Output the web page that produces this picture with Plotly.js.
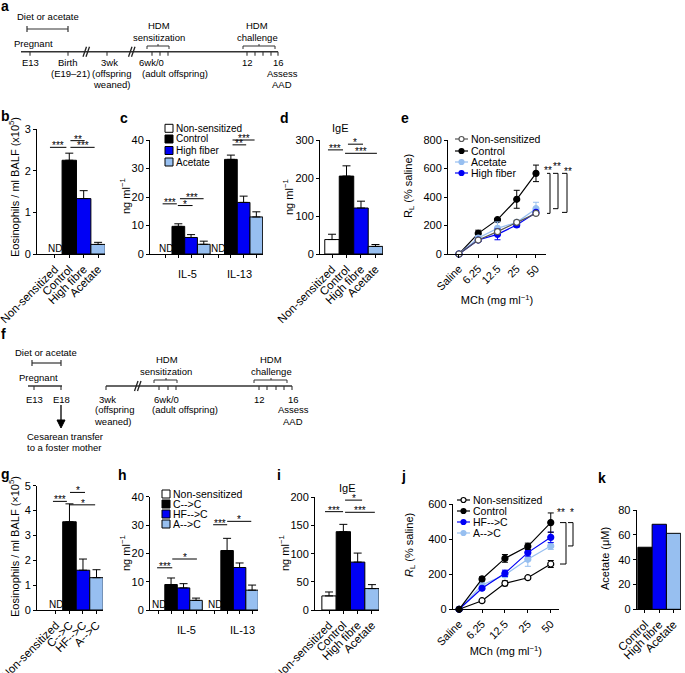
<!DOCTYPE html>
<html><head><meta charset="utf-8">
<script src="https://cdn.plot.ly/plotly-3.0.1.min.js"></script>
<style>html,body{margin:0;padding:0;background:#fff}</style>
</head><body><div id="chart" style="width:685px;height:673px"></div>
<script>
// ================= DATA =================
// panel b
const groupsB = ['Non-sensitized', 'Control', 'High fibre', 'Acetate'];
const eosB = [null, 2.25, 1.33, 0.23];
const eosBErr = [0, 0.17, 0.19, 0.05];
// panel c
const cytokines = ['IL-5', 'IL-13'];
const seriesC = ['Non-sensitized', 'Control', 'High fiber', 'Acetate'];
const cNS = [null, null];
const cCtrl = [9.7, 33.2];
const cCtrlErr = [0.9, 1.5];
const cHF = [5.8, 18.1];
const cHFErr = [1.0, 2.2];
const cAc = [3.4, 13.0];
const cAcErr = [1.1, 1.8];
// panel d
const groupsD = ['Non-sensitized', 'Control', 'High fibre', 'Acetate'];
const igeD = [38, 205, 121, 20];
const igeDErr = [14, 27, 18, 5];
// panel e
const doses = ['Saline', '6.25', '12.5', '25', '50'];
const seriesE = ['Non-sensitized', 'Control', 'Acetate', 'High fiber'];
const eNS = [0, 98, 157, 222, 285];
const eNSErr = [0, 10, 12, 12, 10];
const eCtrl = [0, 145, 241, 384, 566];
const eCtrlErr = [0, 22, 6, 63, 58];
const eAc = [0, 112, 180, 222, 318];
const eAcErr = [0, 15, 45, 15, 45];
const eHF = [0, 98, 138, 204, 292];
const eHFErr = [0, 10, 38, 15, 12];
// panel g
const groupsG = ['Non-sensitized', 'C-->C', 'HF-->C', 'A-->C'];
const eosG = [null, 3.55, 1.6, 1.3];
const eosGErr = [0, 0.72, 0.45, 0.32];
// panel h
const seriesH = ['Non-sensitized', 'C-->C', 'HF-->C', 'A-->C'];
const hNS = [null, null];
const hCC = [9.0, 21.0];
const hCCErr = [2.3, 4.3];
const hHF = [7.8, 15.0];
const hHFErr = [1.5, 1.6];
const hAc = [3.4, 7.0];
const hAcErr = [0.8, 1.8];
// panel i
const groupsI = ['Non-sensitized', 'Control', 'High fibre', 'Acetate'];
const igeI = [25, 139, 85, 38];
const igeIErr = [7, 13, 16, 7];
// panel j
const seriesJ = ['Non-sensitized', 'Control', 'HF-->C', 'A-->C'];
const jNS = [0, 49, 148, 180, 258];
const jNSErr = [0, 5, 14, 8, 20];
const jCtrl = [0, 173, 290, 359, 494];
const jCtrlErr = [0, 12, 22, 18, 55];
const jHF = [0, 120, 205, 323, 410];
const jHFErr = [0, 8, 18, 20, 30];
const jAc = [0, 139, 196, 285, 361];
const jAcErr = [0, 10, 15, 40, 20];
// panel k
const groupsK = ['Control', 'High fibre', 'Acetate'];
const acetateK = [50, 68.5, 61.2];

// ================= STYLE / LAYOUT =================
const W = 685, H = 673;
const FONT = 'Liberation Sans, Arial, Helvetica, sans-serif';
const BLUE = '#0000f5', LBLUE = '#97bff0', GREY = '#555555';
const px = x => x / W, py = y => 1 - y / H;

const P = {
  b: {n: 1, x: [37, 105], y: [129, 254], xr: [-1.24, 3.48], yr: [0, 3]},
  c: {n: 2, x: [150, 263], y: [140, 254], xr: [-0.66, 1.49], yr: [0, 40]},
  d: {n: 3, x: [320, 383], y: [140, 254], xr: [-0.83, 3.52], yr: [0, 300]},
  e: {n: 4, x: [448, 546], y: [140, 254], xr: [-0.57, 4.52], yr: [0, 800]},
  g: {n: 5, x: [37, 103], y: [485.7, 610], xr: [-1.4, 3.48], yr: [0, 5]},
  h: {n: 6, x: [150, 258], y: [496.7, 610], xr: [-0.487, 1.44], yr: [0, 40]},
  i: {n: 7, x: [315, 379], y: [497.3, 610], xr: [-0.98, 3.49], yr: [0, 200]},
  j: {n: 8, x: [452.7, 559], y: [504, 609.3], xr: [-0.28, 4.36], yr: [0, 600]},
  k: {n: 9, x: [636.7, 681], y: [510, 609.3], xr: [-0.58, 2.52], yr: [0, 80]}
};
function ax(p) { const s = p.n === 1 ? '' : p.n; return {xa: 'x' + s, ya: 'y' + s, xl: 'xaxis' + s, yl: 'yaxis' + s}; }
function X(p, v) { return (p.x[0] + (v - p.xr[0]) / (p.xr[1] - p.xr[0]) * (p.x[1] - p.x[0])) / W; }
function Y(p, v) { return 1 - (p.y[1] - (v - p.yr[0]) / (p.yr[1] - p.yr[0]) * (p.y[1] - p.y[0])) / H; }

const layout = {
  width: W, height: H, margin: {l: 0, r: 0, t: 0, b: 0},
  paper_bgcolor: '#fff', plot_bgcolor: 'rgba(0,0,0,0)', showlegend: false,
  font: {family: FONT, size: 11, color: '#000'},
  shapes: [], annotations: []
};
const traces = [];
const S = layout.shapes, A = layout.annotations;

function axisBase() {
  return {showline: true, linecolor: '#000', linewidth: 1, ticks: 'outside', ticklen: 3, tickwidth: 1,
    tickcolor: '#000', showgrid: false, zeroline: false, fixedrange: true,
    tickfont: {family: FONT, size: 11, color: '#000'}};
}
function catAxis(cats, extra) {
  return Object.assign({type: 'category', tickmode: 'array', tickvals: cats, ticktext: cats, tickangle: -45, tickfont: {size: 11.5, color: '#000'}}, extra || {});
}
function setupAxes(p, xo, yo) {
  const a = ax(p);
  layout[a.xl] = Object.assign(axisBase(), {domain: [px(p.x[0]), px(p.x[1])], range: p.xr, anchor: a.ya}, xo);
  layout[a.yl] = Object.assign(axisBase(), {domain: [py(p.y[1]), py(p.y[0])], range: p.yr, anchor: a.xa}, yo);
}
// y-axis title drawn as a rotated label beside the axis
function ytitle(text, x, y) {
  A.push({xref: 'paper', yref: 'paper', x: px(x), y: py(y), text: text, textangle: -90, showarrow: false,
    xanchor: 'center', yanchor: 'middle', font: {size: 11, color: '#000'}});
}

function singleBar(p, cats, vals, errs, colors) {
  const a = ax(p);
  const t = {type: 'bar', x: cats, y: vals, xaxis: a.xa, yaxis: a.ya, width: 1,
    marker: {color: colors, line: {color: '#000', width: 1}}, hoverinfo: 'skip'};
  if (errs) t.error_y = {type: 'data', symmetric: false, array: errs, arrayminus: errs.map(() => 0), color: '#000', thickness: 1, width: 4};
  traces.push(t);
  vals.forEach((v, i) => {
    if (v === null) A.push({xref: a.xa, yref: a.ya, x: i, y: 0, text: 'ND', showarrow: false, yanchor: 'bottom', yshift: -2, font: {size: 10, color: '#000'}});
  });
}
function groupBar(p, groups, vals, errs, colors, w, labShift) {
  const a = ax(p); const n = vals.length; const tv = [];
  vals.forEach((vs, s) => {
    const off = (s - n / 2) * w;
    const t = {type: 'bar', x: groups.map((g, i) => i), y: vs, offset: off, width: w, xaxis: a.xa, yaxis: a.ya,
      marker: {color: colors[s], line: {color: '#000', width: 1}}, hoverinfo: 'skip'};
    if (errs[s]) t.error_y = {type: 'data', symmetric: false, array: errs[s], arrayminus: errs[s].map(() => 0), color: '#000', thickness: 1, width: 4};
    traces.push(t);
    vs.forEach((v, i) => {
      if (v === null) A.push({xref: a.xa, yref: a.ya, x: i + off + w / 2, y: 0, text: 'ND', showarrow: false, yanchor: 'bottom', yshift: -2, font: {size: 10, color: '#000'}});
    });
  });
  groups.forEach((g, i) => {
    for (let s = 0; s < n; s++) tv.push(i + (s - n / 2) * w + w / 2);
    A.push({xref: a.xa, yref: 'paper', x: i + w * labShift, y: py(p.y[1]), text: g, showarrow: false, yanchor: 'top', yshift: -12, font: {size: 11, color: '#000'}});
  });
  return tv;
}
function sig(p, x0, x1, v, label, dy) {
  S.push({type: 'line', xref: 'paper', yref: 'paper', x0: X(p, x0), x1: X(p, x1), y0: Y(p, v), y1: Y(p, v), line: {color: '#000', width: 1}});
  A.push({xref: 'paper', yref: 'paper', x: (X(p, x0) + X(p, x1)) / 2, y: Y(p, v), text: label, showarrow: false,
    xanchor: 'center', yanchor: 'bottom', yshift: -6 + (dy || 0), font: {size: 10, color: '#000'}});
}
function bracket(p, xl, xr, vTop, vBot) {
  const x0 = px(xl), x1 = px(xr), y0 = Y(p, vTop), y1 = Y(p, vBot);
  S.push({type: 'path', xref: 'paper', yref: 'paper', path: `M${x0},${y0} L${x1},${y0} L${x1},${y1} L${x0},${y1}`, line: {color: '#000', width: 1}});
}
function txt(text, x, y, opts) {
  A.push(Object.assign({xref: 'paper', yref: 'paper', x: px(x), y: py(y), text: text, showarrow: false,
    xanchor: 'center', yanchor: 'middle', font: {size: 9.5, color: '#000'}}, opts || {}));
}
function seg(x0, y0, x1, y1, w, c) {
  S.push({type: 'line', xref: 'paper', yref: 'paper', x0: px(x0), y0: py(y0), x1: px(x1), y1: py(y1), line: {color: c || '#333', width: w || 1.2}});
}
function barLegend(names, colors, x, ys, fs) {
  names.forEach((nm, i) => {
    S.push({type: 'rect', xref: 'paper', yref: 'paper', x0: px(x), x1: px(x + 8), y0: py(ys[i] + 4), y1: py(ys[i] - 4),
      fillcolor: colors[i], line: {color: '#000', width: 1}});
    txt(nm, x + 8.5, ys[i], {xanchor: 'left', font: {size: fs, color: '#000'}});
  });
}
function lineLegend(names, lineColors, fills, x, ys, fs) {
  names.forEach((nm, i) => {
    seg(x, ys[i], x + 13, ys[i], 1.2, lineColors[i]);
    S.push({type: 'circle', xref: 'paper', yref: 'paper', x0: px(x + 4), x1: px(x + 9), y0: py(ys[i] + 2.5), y1: py(ys[i] - 2.5),
      fillcolor: fills[i], line: {color: lineColors[i], width: 1.2}});
    txt(nm, x + 14, ys[i], {xanchor: 'left', font: {size: fs, color: '#000'}});
  });
}
function lineTrace(p, xs, ys, errs, lineColor, fill, mline) {
  const a = ax(p);
  traces.push({type: 'scatter', mode: 'lines+markers', x: xs, y: ys, xaxis: a.xa, yaxis: a.ya,
    line: {color: lineColor, width: 1.2}, marker: {symbol: 'circle', size: 6, color: fill, line: {color: mline, width: 1.2}},
    error_y: {type: 'data', array: errs, color: lineColor, thickness: 1, width: 3}, hoverinfo: 'skip', cliponaxis: false});
}
const starFont = {size: 10, color: '#000'};

// ---------- panel b ----------
setupAxes(P.b, catAxis(groupsB), {dtick: 1});
ytitle('Eosinophils / ml BALF (x10<sup>5</sup>)', 14, 187);
singleBar(P.b, groupsB, eosB, eosBErr, ['#fff', '#000', BLUE, LBLUE]);
sig(P.b, -0.34, 0.8, 2.56, '***'); sig(P.b, 1.08, 2.07, 2.72, '**'); sig(P.b, 1.08, 2.76, 2.56, '***');

// ---------- panel c ----------
const tvC = groupBar(P.c, cytokines, [cNS, cCtrl, cHF, cAc], [null, cCtrlErr, cHFErr, cAcErr], ['#fff', '#000', BLUE, LBLUE], 0.242, 0.2);
setupAxes(P.c, {tickmode: 'array', tickvals: tvC, ticktext: tvC.map(() => '')}, {dtick: 10});
ytitle('ng ml<sup>−1</sup>', 125, 196);
barLegend(seriesC, ['#fff', '#000', BLUE, LBLUE], 165, [128.3, 139, 150.5, 162], 10);
sig(P.c, -0.42, -0.15, 17.6, '***'); sig(P.c, -0.13, 0.15, 17.0, '*'); sig(P.c, -0.09, 0.36, 19.4, '***');
sig(P.c, 0.91, 1.33, 40, '***'); sig(P.c, 0.91, 1.17, 38.3, '**');

// ---------- panel d ----------
setupAxes(P.d, catAxis(groupsD), {dtick: 100});
ytitle('ng ml<sup>−1</sup>', 288, 197);
singleBar(P.d, groupsD, igeD, igeDErr, ['#fff', '#000', BLUE, LBLUE]);
sig(P.d, -0.28, 0.76, 274, '***'); sig(P.d, 1.1, 2.14, 289, '*'); sig(P.d, 0.9, 3.1, 265, '***');
txt('IgE', 340, 128, {font: {size: 11, color: '#000'}});

// ---------- panel e ----------
setupAxes(P.e, catAxis(doses, {tickfont: {size: 11, color: '#000'}, title: {text: 'MCh (mg ml<sup>−1</sup>)', font: {size: 11, color: '#000'}, standoff: 0}}),
  {dtick: 200});
ytitle('R<sub>L</sub> (% saline)', 409, 186);
lineTrace(P.e, doses, eCtrl, eCtrlErr, '#000', '#000', '#000');
lineTrace(P.e, doses, eAc, eAcErr, LBLUE, LBLUE, LBLUE);
lineTrace(P.e, doses, eHF, eHFErr, BLUE, BLUE, BLUE);
lineTrace(P.e, doses, eNS, eNSErr, GREY, '#fff', GREY);
lineLegend(seriesE, [GREY, '#000', LBLUE, BLUE], ['#fff', '#000', LBLUE, BLUE], 455, [139, 151, 162, 173], 10.5);
bracket(P.e, 547, 550, eCtrl[4], eNS[4]);
bracket(P.e, 553, 558, eCtrl[4], eAc[4]);
bracket(P.e, 562, 567, eCtrl[4], eHF[4]);
txt('**', 548, 170, {font: starFont}); txt('**', 557, 166, {font: starFont}); txt('**', 568, 171, {font: starFont});

// ---------- panel g ----------
setupAxes(P.g, catAxis(groupsG), {dtick: 1});
ytitle('Eosinophils / ml BALF (×10<sup>5</sup>)', 14, 547);
singleBar(P.g, groupsG, eosG, eosGErr, ['#fff', '#000', BLUE, LBLUE]);
sig(P.g, -0.22, 0.81, 4.37, '***'); sig(P.g, 1.04, 2.15, 4.73, '*'); sig(P.g, 1.04, 2.9, 4.23, '*');

// ---------- panel h ----------
const tvH = groupBar(P.h, cytokines, [hNS, hCC, hHF, hAc], [null, hCCErr, hHFErr, hAcErr], ['#fff', '#000', BLUE, LBLUE], 0.223, 0.7);
setupAxes(P.h, {tickmode: 'array', tickvals: tvH, ticktext: tvH.map(() => '')}, {dtick: 10});
ytitle('ng ml<sup>−1</sup>', 125, 553);
barLegend(seriesH, ['#fff', '#000', BLUE, LBLUE], 162, [494, 504, 514, 524], 10.5);
sig(P.h, -0.36, -0.09, 14.9, '***'); sig(P.h, -0.09, 0.35, 18, '*');
sig(P.h, 0.64, 0.89, 30.1, '***'); sig(P.h, 0.89, 1.32, 31.3, '*');

// ---------- panel i ----------
setupAxes(P.i, catAxis(groupsI), {dtick: 50});
ytitle('ng ml<sup>−1</sup>', 284, 553);
singleBar(P.i, groupsI, igeI, igeIErr, ['#fff', '#000', BLUE, LBLUE]);
sig(P.i, -0.28, 0.98, 174.5, '***'); sig(P.i, 1.12, 2.31, 195, '*'); sig(P.i, 1.12, 3.2, 173.4, '***');
txt('IgE', 348, 488, {font: {size: 11, color: '#000'}});

// ---------- panel j ----------
setupAxes(P.j, catAxis(doses, {tickfont: {size: 11, color: '#000'}, title: {text: 'MCh (mg ml<sup>−1</sup>)', font: {size: 11, color: '#000'}, standoff: 0}}),
  {dtick: 200});
ytitle('<i>R</i><sub>L</sub> (% saline)', 410, 545);
lineTrace(P.j, doses, jNS, jNSErr, '#000', '#fff', '#000');
lineTrace(P.j, doses, jAc, jAcErr, LBLUE, LBLUE, LBLUE);
lineTrace(P.j, doses, jHF, jHFErr, BLUE, BLUE, BLUE);
lineTrace(P.j, doses, jCtrl, jCtrlErr, '#000', '#000', '#000');
lineLegend(seriesJ, ['#000', '#000', BLUE, LBLUE], ['#fff', '#000', BLUE, LBLUE], 457, [500, 511, 522, 533], 10.5);
bracket(P.j, 560, 566, jCtrl[4], jNS[4]);
bracket(P.j, 568, 573, jCtrl[4], jAc[4]);
txt('**', 561, 512, {font: starFont}); txt('*', 572, 512, {font: starFont});

// ---------- panel k ----------
setupAxes(P.k, catAxis(groupsK), {dtick: 20});
ytitle('Acetate (μM)', 605, 559);
singleBar(P.k, groupsK, acetateK, null, ['#000', BLUE, LBLUE]);

// ---------- panel letters ----------
[['a', 5, 6], ['b', 5, 116], ['c', 124, 118], ['d', 284, 118], ['e', 405, 118], ['f', 4, 334],
 ['g', 5, 474], ['h', 122, 475], ['i', 279, 475], ['j', 403, 476], ['k', 602, 478]].forEach(l => {
  txt('<b>' + l[0] + '</b>', l[1], l[2], {font: {size: 14, color: '#000'}});
});

// ---------- timeline a ----------
(function () {
  const y = 51.7;
  seg(21, y, 278, y, 1.6);
  [30, 68, 107, 152, 160, 168, 247, 255, 263, 271, 278].forEach(t => seg(t, y, t, y + 4, 1.1));
  [86.5, 132].forEach(b => { seg(b - 3.5, y + 5, b, y - 5, 1.3, '#222'); seg(b - 0.5, y + 5, b + 3, y - 5, 1.3, '#222'); });
  seg(27, 29, 68, 29); seg(27, 26, 27, 32); seg(68, 26, 68, 32);
  txt('Diet or acetate', 48, 16); txt('Pregnant', 33, 43);
  seg(147, 46, 169, 46, 1); seg(147, 46, 147, 49, 1); seg(169, 46, 169, 49, 1); seg(158, 46, 158, 44, 1);
  txt('HDM', 159, 26); txt('sensitization', 159, 37);
  seg(243, 46, 275, 46, 1); seg(243, 46, 243, 49, 1); seg(275, 46, 275, 49, 1); seg(259, 46, 259, 44, 1);
  txt('HDM', 257, 26); txt('challenge', 257, 37);
  txt('E13', 30, 62); txt('Birth', 68, 62); txt('3wk', 109, 62); txt('6wk/0', 151, 62); txt('12', 247.5, 62); txt('16', 278, 62);
  txt('(E19–21)', 70, 73); txt('(offspring', 111, 73); txt('(adult offspring)', 175, 73); txt('Assess', 282, 73);
  txt('weaned)', 111, 84); txt('AAD', 282, 84);
})();

// ---------- timeline f ----------
(function () {
  const y = 386;
  seg(28, y, 62, y, 1.6); seg(106, y, 292, y, 1.6);
  [34, 61, 106, 159, 168, 176, 259, 267, 276, 284, 292].forEach(t => seg(t, y, t, y + 4, 1.1));
  [138].forEach(b => { seg(b - 3.5, y + 5, b, y - 5, 1.3, '#222'); seg(b - 0.5, y + 5, b + 3, y - 5, 1.3, '#222'); });
  seg(32, 363, 61, 363); seg(32, 360, 32, 366); seg(61, 360, 61, 366);
  txt('Diet or acetate', 46, 352); txt('Pregnant', 38, 377);
  seg(154, 380, 177, 380, 1); seg(154, 380, 154, 383, 1); seg(177, 380, 177, 383, 1); seg(166, 380, 166, 378, 1);
  txt('HDM', 166.5, 359); txt('sensitization', 166, 371);
  seg(254, 380, 287, 380, 1); seg(254, 380, 254, 383, 1); seg(287, 380, 287, 383, 1); seg(271, 380, 271, 378, 1);
  txt('HDM', 271, 359); txt('challenge', 271, 371);
  txt('E13', 34, 399); txt('E18', 61, 399); txt('3wk', 107.5, 399); txt('6wk/0', 166, 399); txt('12', 259, 399); txt('16', 293, 399);
  txt('(offspring', 114, 410); txt('(adult offspring)', 185, 410); txt('Assess', 293, 410);
  txt('weaned)', 113, 421); txt('AAD', 293, 421);
  seg(61, 405, 61, 422, 1.3, '#000');
  S.push({type: 'path', xref: 'paper', yref: 'paper', path: `M${px(57)},${py(420)} L${px(65)},${py(420)} L${px(61)},${py(428)} Z`, fillcolor: '#000', line: {color: '#000', width: 1}});
  txt('Cesarean transfer', 25, 436, {xanchor: 'left'}); txt('to a foster mother', 25, 447, {xanchor: 'left'});
})();

Plotly.newPlot('chart', traces, layout, {displayModeBar: false, staticPlot: true});
</script>
</body></html>
